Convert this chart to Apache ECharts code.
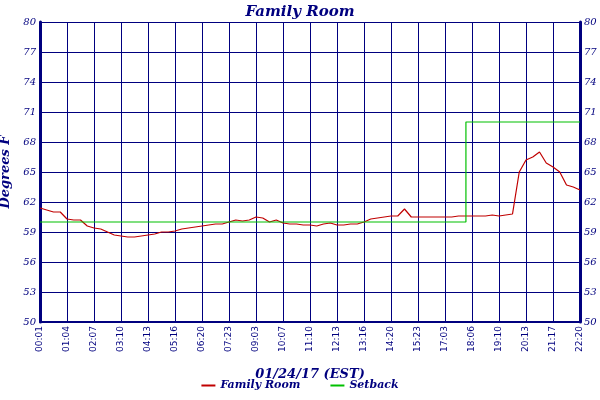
<!DOCTYPE html>
<html><head><meta charset="utf-8">
<script src="https://cdn.jsdelivr.net/npm/echarts@6/dist/echarts.min.js"></script>
<style>html,body{margin:0;padding:0;background:#fff}#c{width:600px;height:400px}</style>
</head><body><div id="c"></div>
<script>
const timeLabels = ["00:01","01:04","02:07","03:10","04:13","05:16","06:20","07:23","09:03","10:07","11:10","12:13","13:16","14:20","15:23","17:03","18:06","19:10","20:13","21:17","22:20"];
const yTicks = [50,53,56,59,62,65,68,71,74,77,80];
// Family Room temperature, one sample per quarter of a label interval
const familyRoom = [61.4,61.2,61.0,61.0,60.3,60.2,60.2,59.6,59.4,59.3,59.0,58.7,58.6,58.5,58.5,58.6,58.7,58.8,59.0,59.0,
 59.1,59.3,59.4,59.5,59.6,59.7,59.8,59.8,60.0,60.2,60.1,60.2,60.5,60.4,60.0,60.2,59.9,59.8,59.8,59.7,
 59.7,59.6,59.8,59.9,59.7,59.7,59.8,59.8,60.0,60.3,60.4,60.5,60.6,60.6,61.3,60.5,60.5,60.5,60.5,60.5,
 60.5,60.5,60.6,60.6,60.6,60.6,60.6,60.7,60.6,60.7,60.8,65.0,66.2,66.5,67.0,65.9,65.5,65.0,63.7,63.5,63.2];
const setbackPos = [0,63.1,63.1,80];
const setbackVal = [60,60,70,70];

const navy = '#00007f';
const font = 'DejaVu Serif';
const chart = echarts.init(document.getElementById('c'));
const yAxisBase = {
  type:'value', min:50, max:80, interval:3,
  axisLine:{show:true,lineStyle:{color:navy,width:3}}, axisTick:{show:false},
  axisLabel:{color:navy,fontStyle:'italic',fontFamily:font,fontSize:10,margin:4,formatter:v=>yTicks.includes(v)?String(v):''},
};
chart.setOption({
  animation:false,
  title:{text:'Family Room',left:'center',top:0,textStyle:{color:navy,fontStyle:'italic',fontWeight:'bold',fontFamily:font,fontSize:15}},
  legend:{bottom:4,left:'center',itemWidth:14,itemHeight:2,icon:'rect',itemGap:30,
    textStyle:{color:navy,fontStyle:'italic',fontWeight:'bold',fontFamily:font,fontSize:11},
    data:['Family Room','Setback']},
  grid:{left:40,right:20,top:22,bottom:78,containLabel:false,outerBoundsMode:'none'},
  xAxis:{type:'value',min:0,max:80,interval:4,
    name:'01/24/17 (EST)',nameLocation:'middle',nameGap:46,
    nameTextStyle:{color:navy,fontStyle:'italic',fontWeight:'bold',fontFamily:font,fontSize:13},
    axisLine:{show:true,lineStyle:{color:navy,width:2}},axisTick:{show:false},
    splitLine:{show:true,lineStyle:{color:navy,width:1}},
    axisLabel:{rotate:90,color:navy,fontFamily:'DejaVu Sans',fontSize:9,margin:4,formatter:v=>timeLabels[Math.round(v/4)]||''}},
  yAxis:[
    Object.assign({},yAxisBase,{position:'left',name:'Degrees F',nameLocation:'middle',nameGap:24,
      nameTextStyle:{color:navy,fontStyle:'italic',fontWeight:'bold',fontFamily:font,fontSize:13},
      splitLine:{show:true,lineStyle:{color:navy,width:1}}}),
    Object.assign({},yAxisBase,{position:'right',splitLine:{show:false}})
  ],
  series:[
    {name:'Family Room',type:'line',symbol:'none',lineStyle:{color:'#c00000',width:1.2},itemStyle:{color:'#c00000'},
     data:familyRoom.map((v,i)=>[i,v])},
    {name:'Setback',type:'line',symbol:'none',lineStyle:{color:'#00c000',width:1.2},itemStyle:{color:'#00c000'},
     data:setbackPos.map((p,i)=>[p,setbackVal[i]])}
  ]
});
</script></body></html>
